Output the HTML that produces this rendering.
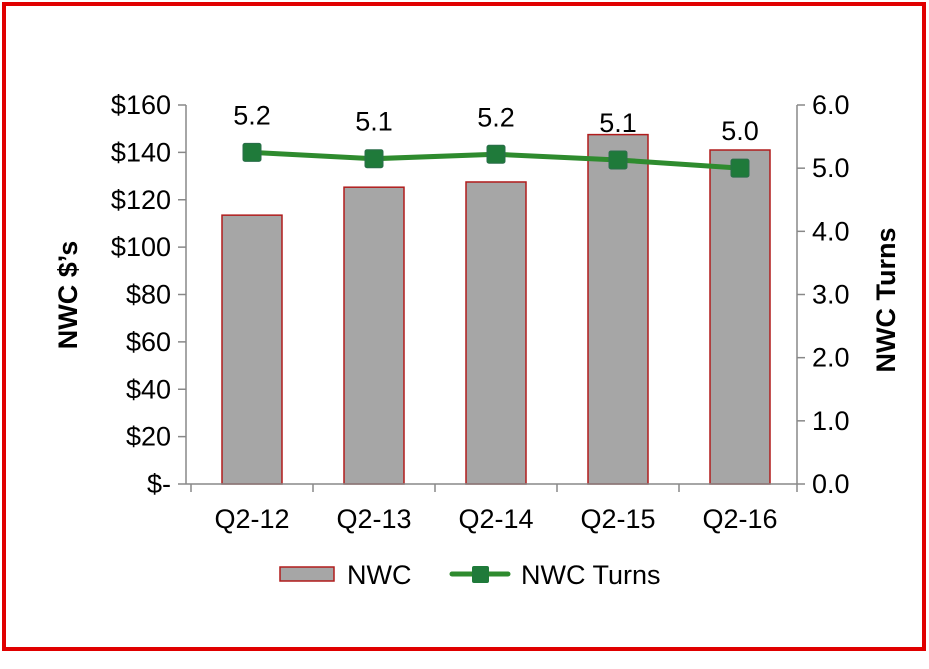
<!DOCTYPE html>
<html><head><meta charset="utf-8"><style>
html,body{margin:0;padding:0;background:#fff;}
svg{display:block;font-family:"Liberation Sans",Arial,sans-serif;}
</style></head><body>
<svg id="chart" width="929" height="669" viewBox="0 0 929 669">
<rect x="4" y="4" width="920" height="645" fill="#fff" stroke="#e00000" stroke-width="4"/>
<g id="plot"></g>
</svg>
<script>
const categories = ["Q2-12","Q2-13","Q2-14","Q2-15","Q2-16"];
const nwcValues = [113.5, 125.3, 127.5, 147.5, 141];
const turnsValues = [5.25, 5.15, 5.22, 5.13, 5.0];
const turnsLabels = ["5.2","5.1","5.2","5.1","5.0"];
const leftTicks = [0,20,40,60,80,100,120,140,160];
const leftTickLabels = ["$-","$20","$40","$60","$80","$100","$120","$140","$160"];
const rightTicks = [0,1,2,3,4,5,6];
const rightTickLabels = ["0.0","1.0","2.0","3.0","4.0","5.0","6.0"];

const NS="http://www.w3.org/2000/svg";
const g=document.getElementById('plot');
const AX0=186, AX1=797, Y0=484, Y1=105;
const B0=191, bandW=122;
const FS=27;
const yL=v=>Y0-(v/160)*(Y0-Y1);
const yR=v=>Y0-(v/6)*(Y0-Y1);
const xC=i=>B0+bandW*(i+0.5);
function mk(tag,attrs,txt){const e=document.createElementNS(NS,tag);for(const k in attrs)e.setAttribute(k,attrs[k]);if(txt!==undefined)e.textContent=txt;g.appendChild(e);return e;}

nwcValues.forEach((v,i)=>{
  const e=mk('rect',{x:xC(i)-30,y:yL(v),width:60,height:Y0-yL(v),fill:'#a6a6a6',stroke:'#b01c1c','stroke-width':1.5});
  
  
});
let a=mk('line',{x1:AX0,y1:Y1,x2:AX0,y2:Y0,stroke:'#888','stroke-width':1.5});

a=mk('line',{x1:AX1,y1:Y1,x2:AX1,y2:Y0,stroke:'#888','stroke-width':1.5});

a=mk('line',{x1:AX0,y1:Y0,x2:AX1,y2:Y0,stroke:'#888','stroke-width':1.5});

leftTicks.forEach((v,i)=>{
  mk('line',{x1:AX0-8,y1:yL(v),x2:AX0,y2:yL(v),stroke:'#888','stroke-width':1.5});
  const t=mk('text',{x:AX0-15,y:yL(v)+9,'text-anchor':'end','font-size':FS},leftTickLabels[i]);
  
});
rightTicks.forEach((v,i)=>{
  mk('line',{x1:AX1,y1:yR(v),x2:AX1+8,y2:yR(v),stroke:'#888','stroke-width':1.5});
  const t=mk('text',{x:AX1+15,y:yR(v)+9,'font-size':FS},rightTickLabels[i]);
  
});
for(let i=0;i<=categories.length;i++){const x=Math.min(AX1,Math.max(AX0,B0+bandW*i));mk('line',{x1:x,y1:Y0,x2:x,y2:Y0+8,stroke:'#888','stroke-width':1.5});}
categories.forEach((c,i)=>{
  const t=mk('text',{x:xC(i),y:Y0+44,'text-anchor':'middle','font-size':FS},c);
  
});
const pts=turnsValues.map((v,i)=>xC(i)+','+yR(v)).join(' ');
const pl=mk('polyline',{points:pts,fill:'none',stroke:'#2e8b2e','stroke-width':5,'stroke-linejoin':'round'});

turnsValues.forEach((v,i)=>{
  const m=mk('rect',{x:xC(i)-9,y:yR(v)-9,width:18,height:18,rx:2,fill:'#1f7a3a',stroke:'#2a6d4a','stroke-width':1});
  
  const t=mk('text',{x:xC(i),y:yR(v)-28,'text-anchor':'middle','font-size':FS},turnsLabels[i]);
  
});
let t=mk('text',{x:0,y:0,transform:'translate(77,295) rotate(-90)','text-anchor':'middle','font-size':FS,'font-weight':'bold'},'NWC $\u2019s');

t=mk('text',{x:0,y:0,transform:'translate(895,300) rotate(-90)','text-anchor':'middle','font-size':FS,'font-weight':'bold'},'NWC Turns');

let l=mk('rect',{x:280,y:567,width:54,height:14,fill:'#a6a6a6',stroke:'#b01c1c','stroke-width':1.5});

l=mk('text',{x:347,y:584,'font-size':FS},'NWC');

l=mk('line',{x1:452,y1:574,x2:508,y2:574,stroke:'#2e8b2e','stroke-width':5,'stroke-linecap':'round'});

l=mk('rect',{x:472,y:566,width:17,height:17,rx:2,fill:'#1f7a3a'});

l=mk('text',{x:521,y:584,'font-size':FS},'NWC Turns');

</script>
</body></html>
